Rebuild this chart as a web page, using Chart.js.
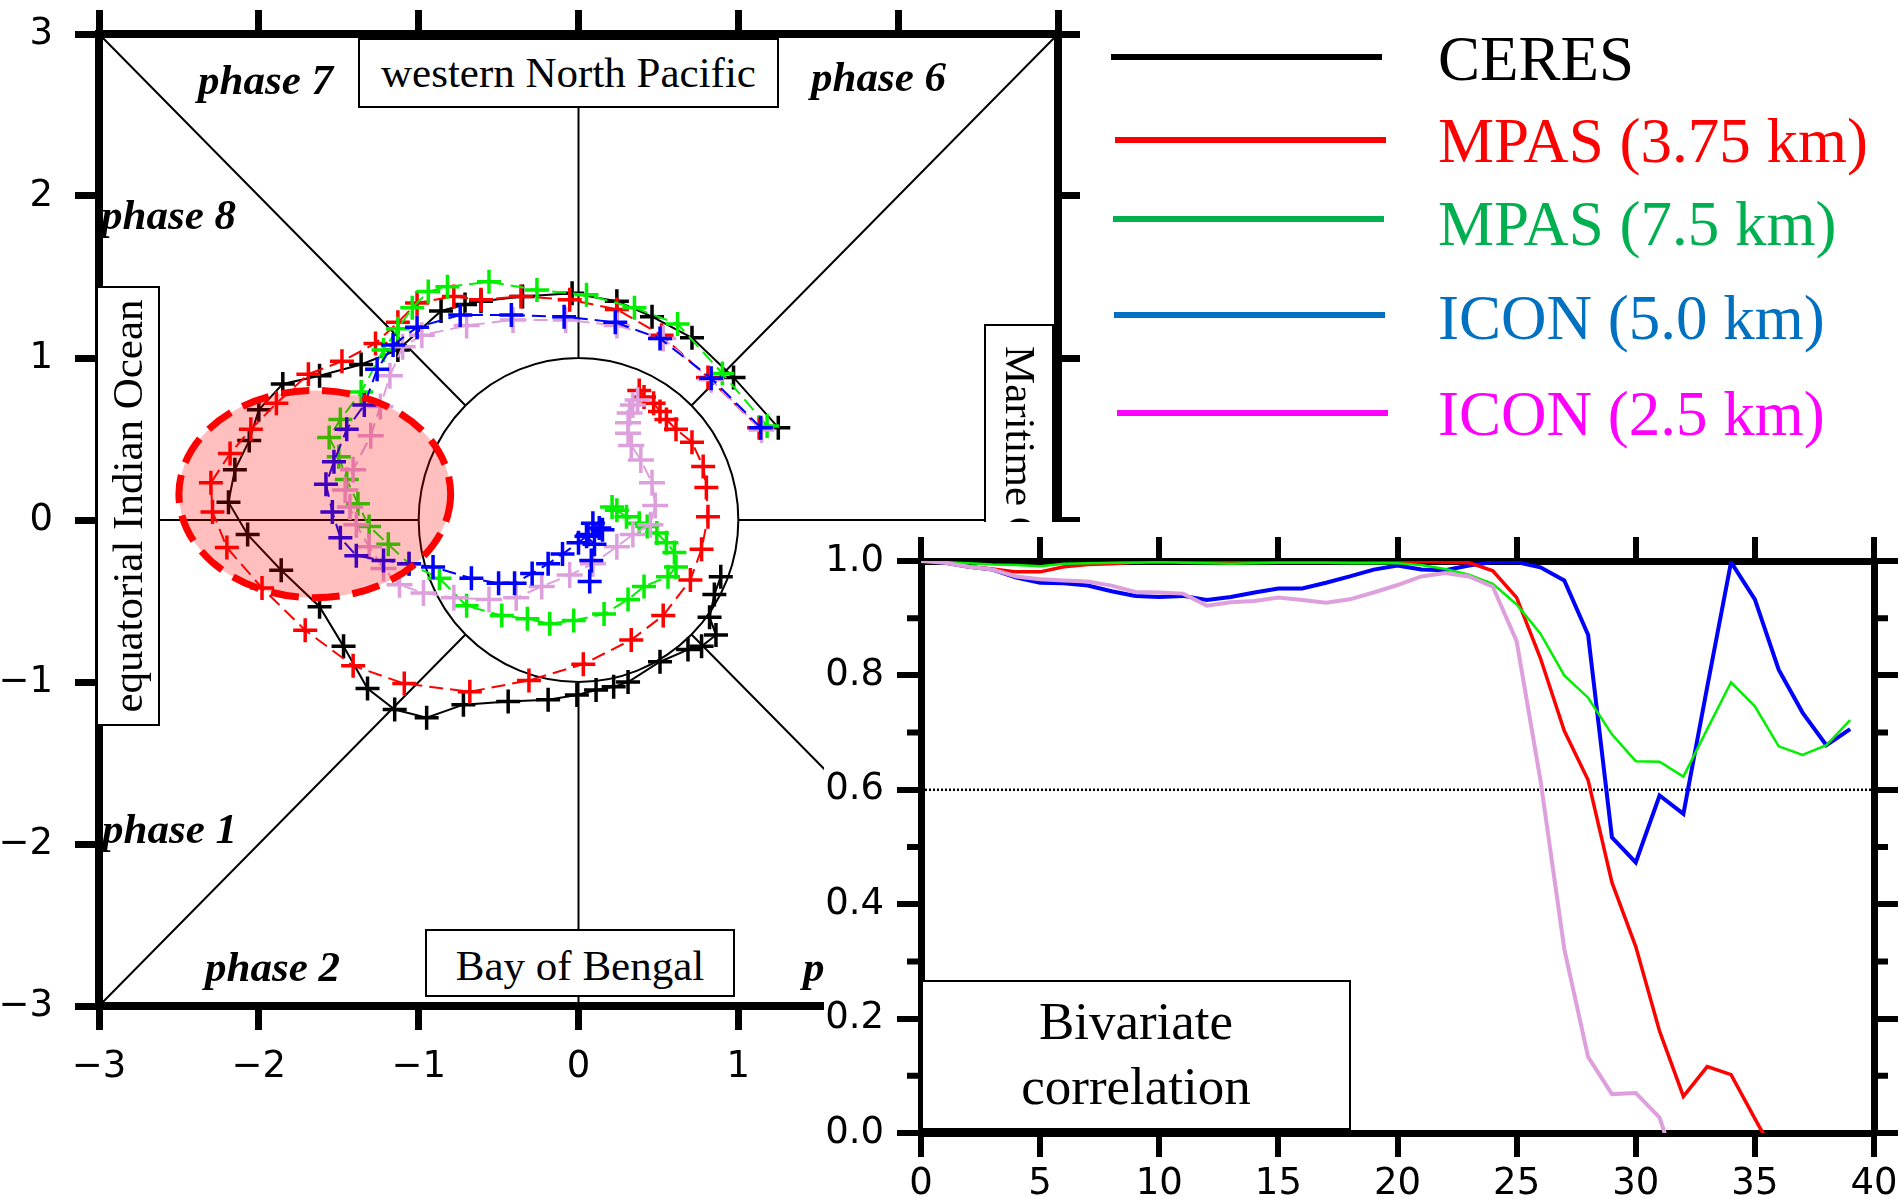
<!DOCTYPE html>
<html>
<head>
<meta charset="utf-8">
<script src="https://cdn.jsdelivr.net/npm/chart.js@4.4.1/dist/chart.umd.min.js"></script>
<style>
  body { margin: 0; background: #fff; overflow: hidden; }
  #page { position: relative; width: 1901px; height: 1199px; background: #fff; }
  #phaseCanvas { position: absolute; left: 0; top: 0; z-index: 1; }
  .box { position: absolute; box-sizing: border-box; border: 2px solid #000; background: #fff; z-index: 2;
         font-family: 'Liberation Serif', 'Times New Roman', serif; font-size: 43px; white-space: nowrap; color: #000; }
  .phase { position: absolute; z-index: 2; font-family: 'Liberation Serif', 'Times New Roman', serif;
           font-size: 43px; font-weight: bold; font-style: italic; line-height: 43px; white-space: nowrap; }
  #inset { position: absolute; left: 824px; top: 522px; width: 1077px; height: 677px; background: #fff; z-index: 3; }
  #corrCanvas { position: absolute; left: 0; top: -3px; }
  .legLine { position: absolute; height: 6px; width: 271px; z-index: 2; }
  .legText { position: absolute; left: 1438px; font-family: 'Liberation Serif', 'Times New Roman', serif;
             font-size: 63px; line-height: 63px; white-space: nowrap; z-index: 2; }
</style>
</head>
<body>
<div id="page">
  <canvas id="phaseCanvas" width="1080" height="1199"></canvas>

  <div class="box" style="left:358px;top:38px;width:421px;height:70px;line-height:66px;text-align:center;">western North Pacific</div>
  <div class="box" style="left:425px;top:929px;width:310px;height:68px;line-height:70px;text-align:center;">Bay of Bengal</div>
  <div class="box" style="left:-92px;top:474px;width:440px;height:64px;line-height:60px;text-align:center;transform:rotate(-90deg);">equatorial Indian Ocean</div>
  <div class="box" style="left:779px;top:529px;width:480px;height:70px;line-height:64px;padding-left:20px;transform:rotate(90deg);">Maritime Continent</div>

  <div class="phase" style="left:198px;top:58px;">phase 7</div>
  <div class="phase" style="left:811px;top:55px;">phase 6</div>
  <div class="phase" style="left:101px;top:193px;">phase 8</div>
  <div class="phase" style="left:102px;top:807px;">phase 1</div>
  <div class="phase" style="left:205px;top:945px;">phase 2</div>
  <div class="phase" style="left:803px;top:945px;">phase 3</div>

  <div class="legLine" style="left:1111px;top:54px;background:#000000;"></div>
  <div class="legLine" style="left:1115px;top:137px;background:#ff0000;"></div>
  <div class="legLine" style="left:1113px;top:216px;background:#00b050;"></div>
  <div class="legLine" style="left:1114px;top:312px;background:#0070c0;"></div>
  <div class="legLine" style="left:1117px;top:410px;background:#ff00ff;"></div>
  <div class="legText" style="top:28px;color:#000000;">CERES</div>
  <div class="legText" style="top:110px;color:#ff0000;">MPAS (3.75 km)</div>
  <div class="legText" style="top:193px;color:#00b050;">MPAS (7.5 km)</div>
  <div class="legText" style="top:287px;color:#0070c0;">ICON (5.0 km)</div>
  <div class="legText" style="top:383px;color:#ff00ff;">ICON (2.5 km)</div>

  <div id="inset">
    <canvas id="corrCanvas" width="1077" height="680"></canvas>
  </div>
  <div class="box" style="left:921px;top:980px;width:430px;height:150px;z-index:4;font-size:53px;text-align:center;line-height:65px;padding-top:7px;">Bivariate<br>correlation</div>
</div>

<script>
// RMM phase-space trajectories [RMM1, RMM2], one point per day
const ceresPath = [
    [1.25, 0.57], [0.97, 0.88], [0.71, 1.125], [0.46, 1.255], [0.24, 1.35], [-0.04, 1.40],
    [-0.35, 1.38], [-0.61, 1.35], [-0.71, 1.33], [-0.86, 1.29], [-1.13, 1.05], [-1.36, 0.96],
    [-1.62, 0.89], [-1.85, 0.84], [-2.0, 0.68], [-2.06, 0.49], [-2.15, 0.31], [-2.19, 0.11],
    [-2.07, -0.09], [-1.86, -0.31], [-1.62, -0.535], [-1.47, -0.78], [-1.32, -1.04], [-1.15, -1.17],
    [-0.95, -1.22], [-0.72, -1.14], [-0.44, -1.12], [-0.19, -1.11], [-0.01, -1.08], [0.11, -1.05],
    [0.22, -1.03], [0.31, -1.0], [0.51, -0.875], [0.685, -0.80], [0.77, -0.78], [0.86, -0.71],
    [0.82, -0.60], [0.85, -0.46], [0.89, -0.35]
];
const mpas375Path = [
    [1.13, 0.57], [0.81, 0.88], [0.52, 1.14], [0.24, 1.30], [-0.055, 1.36], [-0.36, 1.38],
    [-0.61, 1.36], [-0.78, 1.38], [-1.01, 1.34], [-1.13, 1.22], [-1.27, 1.09], [-1.48, 0.98],
    [-1.69, 0.90], [-1.89, 0.72], [-2.05, 0.56], [-2.18, 0.41], [-2.30, 0.23], [-2.29, 0.05],
    [-2.20, -0.17], [-1.98, -0.42], [-1.71, -0.68], [-1.41, -0.90], [-1.09, -1.01], [-0.68, -1.06],
    [-0.31, -0.99], [0.03, -0.89], [0.33, -0.74], [0.53, -0.59], [0.70, -0.37], [0.77, -0.18],
    [0.81, 0.02], [0.80, 0.20], [0.78, 0.33], [0.71, 0.48], [0.61, 0.56], [0.55, 0.62],
    [0.51, 0.67], [0.47, 0.72], [0.41, 0.76], [0.38, 0.80]
];
const mpas75Path = [
    [1.18, 0.58], [0.90, 0.905], [0.62, 1.21], [0.35, 1.31], [0.05, 1.39], [-0.26, 1.42],
    [-0.56, 1.47], [-0.82, 1.44], [-0.94, 1.41], [-1.04, 1.31], [-1.13, 1.18], [-1.22, 1.05],
    [-1.36, 0.79], [-1.49, 0.62], [-1.56, 0.51], [-1.50, 0.39], [-1.45, 0.25], [-1.38, 0.10],
    [-1.31, -0.04], [-1.19, -0.15], [-1.06, -0.27], [-0.87, -0.36], [-0.70, -0.53], [-0.48, -0.59],
    [-0.32, -0.61], [-0.18, -0.64], [-0.03, -0.62], [0.16, -0.58], [0.31, -0.49], [0.41, -0.41],
    [0.56, -0.35], [0.61, -0.29], [0.60, -0.20], [0.55, -0.14], [0.49, -0.08], [0.43, -0.04],
    [0.38, -0.02], [0.30, 0.02], [0.24, 0.06], [0.21, 0.08]
];
const icon50Path = [
    [1.14, 0.57], [0.83, 0.875], [0.51, 1.12], [0.23, 1.22], [-0.09, 1.255], [-0.42, 1.265],
    [-0.74, 1.265], [-1.01, 1.19], [-1.16, 1.08], [-1.26, 0.93], [-1.34, 0.71], [-1.45, 0.56],
    [-1.53, 0.36], [-1.58, 0.22], [-1.54, 0.05], [-1.49, -0.11], [-1.39, -0.22], [-1.22, -0.25],
    [-1.06, -0.27], [-0.91, -0.29], [-0.67, -0.36], [-0.50, -0.39], [-0.40, -0.39], [-0.29, -0.33],
    [-0.19, -0.27], [-0.10, -0.21], [0.0, -0.14], [0.06, -0.09], [0.13, -0.05], [0.09, -0.02],
    [0.15, -0.06], [0.05, -0.10], [0.10, -0.15], [0.08, -0.25], [0.07, -0.38]
];
const icon25Path = [
    [1.145, 0.556], [0.83, 0.865], [0.53, 1.12], [0.24, 1.20], [-0.08, 1.235], [-0.41, 1.235],
    [-0.70, 1.20], [-0.98, 1.14], [-1.10, 1.07], [-1.18, 0.89], [-1.24, 0.70], [-1.30, 0.52],
    [-1.41, 0.31], [-1.46, 0.185], [-1.43, 0.08], [-1.39, -0.03], [-1.31, -0.165], [-1.22, -0.30],
    [-1.12, -0.40], [-0.97, -0.45], [-0.78, -0.48], [-0.56, -0.49], [-0.39, -0.48], [-0.23, -0.41],
    [-0.055, -0.34], [0.09, -0.27], [0.24, -0.165], [0.34, -0.09], [0.45, -0.03], [0.48, 0.09],
    [0.46, 0.23], [0.39, 0.37], [0.33, 0.46], [0.31, 0.535], [0.31, 0.60], [0.32, 0.66],
    [0.34, 0.71], [0.37, 0.74]
];

// highlighted region (data units)
const highlightCenter = [-1.65, 0.16];
const highlightRadii = [0.85, 0.64];
const phaseTicks = [-3, -2, -1, 0, 1, 2, 3];

// bivariate correlation against CERES, by forecast day
const corrDays = [0, 1, 2, 3, 4, 5, 6, 7, 8, 9, 10, 11, 12, 13, 14, 15, 16, 17, 18, 19,
    20, 21, 22, 23, 24, 25, 26, 27, 28, 29, 30, 31, 32, 33, 34, 35, 36, 37, 38, 39];
const corrMpas375 = [1.0, 0.998, 0.99, 0.986, 0.981, 0.981, 0.99, 0.994, 0.995, 0.998,
    1.0, 1.0, 0.999, 0.999, 0.999, 0.999, 0.999, 0.999, 0.999, 0.999,
    0.999, 0.999, 0.998, 0.997, 0.983, 0.936, 0.83, 0.703, 0.617, 0.438,
    0.326, 0.178, 0.064, 0.116, 0.102, 0.025, -0.05];
const corrMpas75 = [1.0, 0.998, 0.996, 0.994, 0.993, 0.991, 0.995, 0.996, 0.997, 0.997,
    0.998, 0.997, 0.996, 0.995, 0.996, 0.997, 0.997, 0.997, 0.996, 0.996,
    0.996, 0.993, 0.986, 0.976, 0.96, 0.924, 0.873, 0.80, 0.761, 0.697,
    0.65, 0.649, 0.623, 0.706, 0.788, 0.746, 0.676, 0.661, 0.678, 0.722];
const corrIcon50 = [1.0, 0.997, 0.99, 0.985, 0.971, 0.962, 0.961, 0.957, 0.947, 0.939,
    0.937, 0.939, 0.932, 0.937, 0.945, 0.952, 0.952, 0.962, 0.973, 0.985,
    0.992, 0.985, 0.984, 0.992, 0.998, 0.998, 0.989, 0.966, 0.871, 0.517,
    0.473, 0.59, 0.558, 0.78, 0.998, 0.933, 0.81, 0.735, 0.678, 0.706];
const corrIcon25 = [1.0, 0.997, 0.99, 0.985, 0.973, 0.968, 0.966, 0.964, 0.957, 0.946,
    0.945, 0.943, 0.922, 0.928, 0.93, 0.936, 0.932, 0.927, 0.933, 0.945,
    0.958, 0.973, 0.979, 0.973, 0.955, 0.86, 0.617, 0.322, 0.133, 0.068,
    0.07, 0.027, -0.1];
const corrThreshold = 0.6;
const corrMinorTicks = [0.1, 0.3, 0.5, 0.7, 0.9];

const tickFont = { family: "'DejaVu Sans', sans-serif", size: 37 };
const minus = v => String(v).replace('-', '\u2212');

function pathData(path) {
    return path.map(p => ({ x: p[0], y: p[1] }));
}

// fixed box sizes so the plot area lands where the figure has it
function fixSize(sc, size) {
    if (sc.isHorizontal()) sc.height = size; else sc.width = size;
    sc.paddingTop = 0;
    sc.paddingBottom = 0;
    sc.paddingLeft = 0;
    sc.paddingRight = 0;
}

function phaseSet(path, color, dashed, order, radius) {
    return {
        data: pathData(path),
        showLine: true,
        borderColor: color,
        borderWidth: 2,
        borderDash: dashed ? [14, 7] : [],
        pointStyle: 'cross',
        pointRadius: radius,
        pointBorderWidth: 3.5,
        pointBorderColor: color,
        pointBackgroundColor: color,
        tension: 0,
        order: order
    };
}

// circle, diagonals and axis spokes of the phase diagram
const phaseFrame = {
    id: 'phaseFrame',
    beforeDatasetsDraw(chart) {
        const { ctx, scales: { x, y } } = chart;
        const px = v => x.getPixelForValue(v);
        const py = v => y.getPixelForValue(v);
        const r = Math.SQRT1_2;
        ctx.save();
        ctx.strokeStyle = '#000';
        ctx.lineWidth = 2;
        ctx.beginPath();
        ctx.ellipse(px(0), py(0), px(1) - px(0), py(0) - py(1), 0, 0, Math.PI * 2);
        const segs = [
            [-3, 3, -r, r], [3, 3, r, r], [-3, -3, -r, -r], [3, -3, r, -r],
            [0, 1, 0, 3], [0, -1, 0, -3], [-3, 0, -1, 0], [1, 0, 3, 0]
        ];
        segs.forEach(s => {
            ctx.moveTo(px(s[0]), py(s[1]));
            ctx.lineTo(px(s[2]), py(s[3]));
        });
        ctx.stroke();
        ctx.restore();
    },
    afterDatasetsDraw(chart) {
        const { ctx, scales: { x, y } } = chart;
        const cx = x.getPixelForValue(highlightCenter[0]);
        const cy = y.getPixelForValue(highlightCenter[1]);
        const rx = x.getPixelForValue(highlightCenter[0] + highlightRadii[0]) - cx;
        const ry = cy - y.getPixelForValue(highlightCenter[1] + highlightRadii[1]);
        ctx.save();
        ctx.beginPath();
        ctx.ellipse(cx, cy, rx, ry, 0, 0, Math.PI * 2);
        ctx.fillStyle = 'rgba(255, 0, 0, 0.25)';
        ctx.fill();
        ctx.setLineDash([28, 13]);
        ctx.lineWidth = 7;
        ctx.strokeStyle = '#ff0000';
        ctx.stroke();
        ctx.restore();
    }
};

function frameScale(position, showLabels, size, padding, extra) {
    const s = {
        type: 'linear',
        position: position,
        min: -3,
        max: 3,
        afterBuildTicks: sc => { sc.ticks = phaseTicks.map(v => ({ value: v })); },
        ticks: {
            display: showLabels,
            font: tickFont,
            color: '#000',
            padding: padding,
            callback: v => minus(v)
        },
        grid: { drawOnChartArea: false, drawTicks: true, tickLength: 24, lineWidth: 7, color: '#000' },
        border: { display: true, width: 8, color: '#000' },
        afterFit: sc => fixSize(sc, size)
    };
    return Object.assign(s, extra || {});
}

function initPhaseChart() {
    const ctx = document.getElementById('phaseCanvas').getContext('2d');
    new Chart(ctx, {
        type: 'scatter',
        data: {
            datasets: [
                phaseSet(ceresPath, '#000000', false, 5, 12),
                phaseSet(mpas375Path, '#ff0000', true, 4, 12),
                phaseSet(mpas75Path, '#00f000', true, 3, 12),
                phaseSet(icon25Path, '#dda0dd', true, 2, 13),
                phaseSet(icon50Path, '#0000ff', true, 1, 12)
            ]
        },
        options: {
            responsive: false,
            animation: false,
            devicePixelRatio: 1,
            layout: { padding: 0, autoPadding: false },
            plugins: { legend: { display: false }, tooltip: { enabled: false } },
            scales: {
                x: frameScale('bottom', true, 193, 15),
                y: frameScale('left', true, 99, 22),
                xTop: frameScale('top', false, 34, 0, { axis: 'x' }),
                yRight: frameScale('right', false, 22, 0, { axis: 'y' })
            }
        },
        plugins: [phaseFrame]
    });
}

// dotted threshold line and minor ticks of the correlation panel
const corrExtras = {
    id: 'corrExtras',
    beforeDatasetsDraw(chart) {
        const { ctx, chartArea, scales: { y } } = chart;
        const py = y.getPixelForValue(corrThreshold);
        ctx.save();
        ctx.strokeStyle = '#000';
        ctx.lineWidth = 2.5;
        ctx.setLineDash([2, 2]);
        ctx.beginPath();
        ctx.moveTo(chartArea.left, py);
        ctx.lineTo(chartArea.right, py);
        ctx.stroke();
        ctx.restore();
    },
    afterDraw(chart) {
        const { ctx, chartArea, scales: { y } } = chart;
        ctx.save();
        ctx.strokeStyle = '#000';
        ctx.lineWidth = 6;
        ctx.beginPath();
        corrMinorTicks.forEach(v => {
            const py = y.getPixelForValue(v);
            ctx.moveTo(chartArea.left - 14, py);
            ctx.lineTo(chartArea.left, py);
            ctx.moveTo(chartArea.right, py);
            ctx.lineTo(chartArea.right + 14, py);
        });
        ctx.stroke();
        ctx.restore();
    }
};

function corrSet(values, color, width) {
    return {
        data: values.map((v, i) => ({ x: corrDays[i], y: v })),
        borderColor: color,
        borderWidth: width,
        pointRadius: 0,
        tension: 0,
        fill: false
    };
}

function corrScale(axis, position, showLabels, size) {
    const isX = axis === 'x';
    return {
        type: 'linear',
        axis: axis,
        position: position,
        min: 0,
        max: isX ? 40 : 1,
        z: 1,
        ticks: {
            display: showLabels,
            stepSize: isX ? 5 : 0.2,
            font: tickFont,
            color: '#000',
            padding: isX ? 5 : 13,
            callback: v => isX ? String(v) : Number(v).toFixed(1)
        },
        grid: { drawOnChartArea: false, drawTicks: true, tickLength: 24, lineWidth: 6, color: '#000' },
        border: { display: true, width: 7, color: '#000' },
        afterFit: sc => fixSize(sc, size)
    };
}

function initCorrChart() {
    const ctx = document.getElementById('corrCanvas').getContext('2d');
    new Chart(ctx, {
        type: 'line',
        data: {
            datasets: [
                corrSet(corrIcon25, '#dda0dd', 4),
                corrSet(corrMpas75, '#00f000', 2.5),
                corrSet(corrMpas375, '#ff0000', 3.5),
                corrSet(corrIcon50, '#0000ff', 4)
            ]
        },
        options: {
            responsive: false,
            animation: false,
            devicePixelRatio: 1,
            layout: { padding: 0, autoPadding: false },
            plugins: { legend: { display: false }, tooltip: { enabled: false } },
            scales: {
                x: corrScale('x', 'bottom', true, 66),
                y: corrScale('y', 'left', true, 97),
                xTop: corrScale('x', 'top', false, 42),
                yRight: corrScale('y', 'right', false, 27)
            }
        },
        plugins: [corrExtras]
    });
}

document.addEventListener('DOMContentLoaded', () => {
    initPhaseChart();
    initCorrChart();
});
</script>
</body>
</html>
